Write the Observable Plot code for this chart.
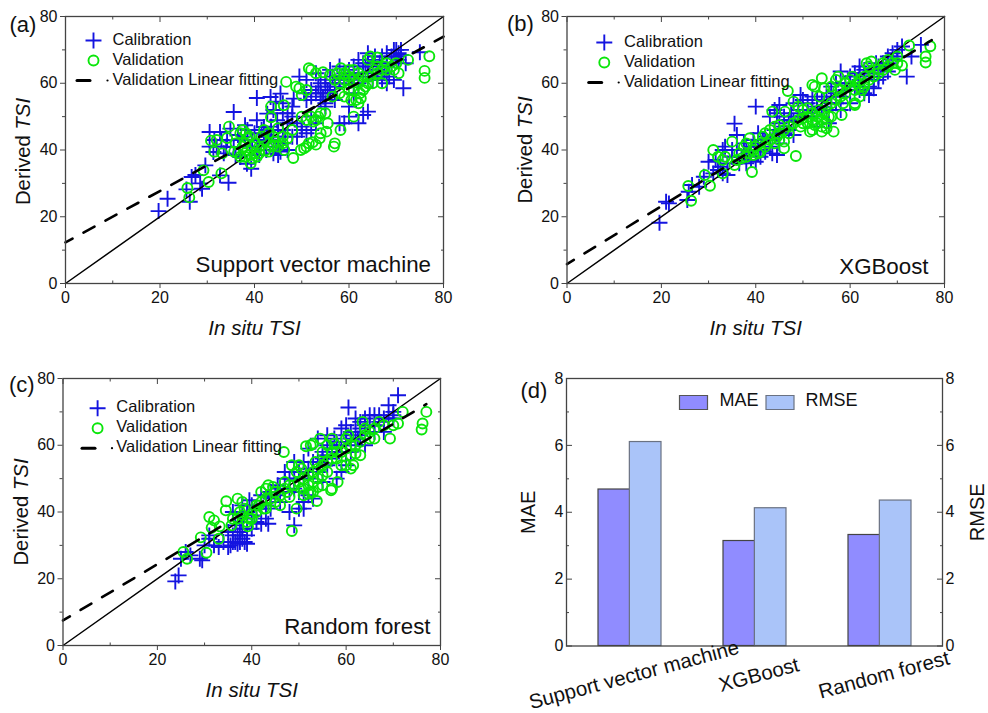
<!DOCTYPE html>
<html><head><meta charset="utf-8">
<style>
html,body{margin:0;padding:0;background:#fff;width:988px;height:713px;overflow:hidden}
#chart{position:relative;width:988px;height:713px}
#chart svg{position:absolute;background:none;overflow:visible}
</style>
<script src="https://cdn.jsdelivr.net/npm/d3@7"></script>
<script src="https://cdn.jsdelivr.net/npm/@observablehq/plot@0.6"></script>
</head><body><div id="chart"></div>
<script>
const calibrationA=[[19.7,21.7],[21.6,25.4],[26.3,24.5],[25.6,28.2],[26.7,31.9],[27.5,32.5],[28.9,28.4],[29.6,35.4],[28.5,30],[30.5,45.4],[32.7,45.4],[31.3,39.4],[34.5,30.2],[32.7,32.4],[35.6,51.4],[34.9,46.4],[34.2,42.9],[35.6,40.9],[33.5,39],[37,37.9],[38.4,35.9],[39.3,34.4],[38,47.4],[40.5,48.9],[40.5,55.6],[43.4,55.9],[45.5,56.9],[44.5,54.5],[46,54],[48.3,55.4],[42.7,50.9],[44.8,48.9],[42,46.9],[43,44],[45,44],[44,39],[45,38.5],[42.5,40],[41,43],[39,41],[37,43],[46,42],[47,40],[49,48],[50,47],[50,46],[51,45],[52,46],[49.5,62],[51,61],[52,58],[54,60],[54.5,56],[55,59],[56,57],[53,63],[56,64],[58,65],[60,61],[61,57],[62,60],[63.5,65],[63,66],[64,69],[65,67],[66,62],[67,61],[66,64],[68,65],[68,69],[69,66],[70,70],[71,70],[70.5,69],[69.5,61],[71.5,58.5],[75,69.3],[72,66],[60,53],[59,48],[62,48],[64,51.5],[63,50.5],[58,48],[60,50],[55,53],[52,50],[48,50],[53,48],[57,55],[61,62],[62,63],[64,62],[65,65],[67,62],[68,60],[58,60],[59,62],[56,60],[54,57],[55,54],[30.5,41],[31.5,43],[32,41],[33,43],[34,41],[36,38.5],[36.5,44.5],[38,44],[38.5,46],[39.5,43],[40,45],[40.5,41],[41,38.5],[41.5,46],[42,42],[42.5,44.5],[43.5,47],[44,43],[44.5,41],[45,46],[45.5,39.5],[46,46],[46.5,44],[47,48],[48,44],[50.5,57],[51,55],[52,56],[53,57],[53.5,59],[54,55],[55,61],[55.5,58],[56.5,62],[57,59],[58,61],[59,63],[60,64],[61,65],[62,67],[63,63],[64,66],[65,61],[65.5,68],[66.5,66],[67,68],[67.5,63],[68.5,62],[69,68],[69.5,70],[70,68],[70.5,67],[71,68.5],[49,44],[47,51],[48,53],[46,51],[44,52]];
const validationA=[[25.8,28.6],[26.2,25.8],[29.2,33.9],[30.3,30.4],[33,33],[30.8,42.8],[32,43],[31.5,39.5],[33.2,39],[34.2,43.6],[34.6,47],[35.7,39.5],[37,45],[37.5,46],[38.2,45],[38.5,43.5],[37.5,41],[38.5,40],[39,38.5],[39.2,36],[39.5,37.5],[40,39],[41,41],[41.5,44],[42,46],[42.3,39.9],[43,45],[43.5,41],[44,41.5],[43.5,49.8],[43.5,53],[46.2,53.4],[45,46.5],[46,42],[46.3,40],[48,46],[48.2,37.6],[46.7,60.4],[48.8,59],[49.5,58.5],[50,56.5],[51,58],[49.8,40],[50.5,40.5],[51,41],[51.5,42],[52.3,42.3],[53,41.6],[54,45],[53.8,43.5],[52,50],[53,49],[53.5,50],[55,51],[55.5,48],[55.2,45.5],[57,42],[56.8,41],[58.2,46],[51.5,64.5],[52,64],[53,63],[54.5,63.3],[56,62.5],[57.5,63],[58.3,64.5],[59,61],[60,62],[61,61],[62,63],[56.5,56],[59,56],[60.5,55],[61.5,55],[62,54],[62.5,55.5],[63,58],[61,50],[62.3,57],[64,60],[65.5,64],[66,65],[67,60],[67.5,65],[64,67],[64.5,68],[66,67.7],[68,66],[69.5,64],[70,66],[70.5,63],[72.5,67],[76,63.7],[76,61.6],[77,68.1],[36,42],[36.5,39],[37,38],[38,38],[38,42],[39,44],[39.5,41],[40,42],[40.5,38],[41,39],[42,43],[43,39.5],[44,44],[44.5,42.5],[45,41],[46,44],[47,43.5],[57,61],[58,60],[59,63],[60,60],[61,58],[62,60],[63,62],[63.5,59],[64.5,62],[65,60],[66,63],[67,64],[68,64],[69,65],[50,50],[51,49],[52.5,48.5],[54,51],[60,58],[58,57],[62,61],[61,64],[60,64]];
const fitA=[[0,12.3],[80,74]];
const calibrationB=[[19.6,18.2],[21.6,24],[21,24.5],[25.5,25],[25.8,27.5],[26.5,29.5],[28,29],[29,32],[30,36.5],[32,34],[33,33],[34,32.5],[33,40],[35,38],[33.5,41],[35.5,47.9],[36,44.5],[36.5,36],[38,36],[39,37],[37.5,42],[39,41],[40.5,45],[40,53],[41.5,43],[43,41],[43.5,39],[44.5,38.5],[42,39.5],[45,48],[43,50],[44,52],[45,53.5],[44.5,51],[46,50],[47,49],[48,48.5],[48,44.5],[49.5,56.5],[50,55],[51,54],[52,56],[53,55],[54,53],[55,52],[56,56],[57,57],[58,63.5],[59,60],[60,62],[60,58],[61,63],[62,61],[63,57],[64,56.5],[65,58.5],[66,62],[67,64],[68,63.5],[69,67],[70,70],[71,71],[70,68],[72,62],[73,68],[75,71.5],[68,66],[66,61],[64,63],[62,58],[57,54],[58,52],[55.5,48],[53,47],[50,52],[49,50],[46,45],[45,42],[41,40],[40,36.5],[38,40],[36,40],[31,33],[31.5,37],[62,65],[63,64],[65.5,66],[67,66],[32.5,35],[34,36],[35,40],[37,38],[38.5,39],[39.5,43],[40.5,42],[41,38],[42,44],[43,43],[44,46],[45,45],[46,47],[47,46],[47.5,51],[48,54],[49,52],[50,50],[51,51],[52,52],[53,53],[54,55],[55,56],[56,54],[57,60],[58,56],[59,58],[60,60],[61,59],[62,63],[63,62],[64,61],[65,63],[66,65],[67,62],[68,68],[69,69],[65,61],[64,59],[60,54],[56,59],[52,50]];
const validationB=[[25.7,29.2],[26.3,24.8],[29.2,32.5],[30.3,29.3],[33,33],[31,40],[32,38],[33,37],[33.5,38],[35,42.5],[35.5,35.5],[36.5,39],[37.5,41],[38,42],[38.7,43.5],[39.2,33.4],[39.5,38.5],[40.5,39],[41,42],[41.5,44],[42,45],[43,46],[44,47],[45,47.5],[43.5,51.5],[46.2,51.5],[45,43],[46,42.5],[46,40.5],[47,45],[48.5,38.2],[46.8,57.7],[48,54.5],[49,53],[50,52],[51,52.5],[50,48],[51,48],[52,46],[51.5,45.5],[52,49],[53,50],[54,45.5],[54,47],[55,48],[55.5,50],[56,50],[56.5,45.5],[58.2,50.5],[52,59.5],[52.5,59],[53.5,56],[54,61.5],[54.5,58.5],[56,59],[57,61],[57.5,62],[58,58],[59,60],[60,61],[60.5,62],[61,54],[61,53.5],[62,56],[63,59],[62.5,58],[61.5,60],[62,61],[64,65],[63.5,66],[64.5,66.5],[66,63],[67,66],[68,65],[70,66],[70,68],[69.5,64],[71,65.3],[72.5,71.3],[76,68],[76,66.2],[77,71.1],[36,37],[37,37.5],[38,38],[38.5,39],[39.5,40],[40,41],[41,39.5],[42,41],[42.5,42],[43,43],[44,42],[44.5,44],[45,45],[46,46],[47,47],[48,48],[49,49],[49.5,47],[50,49.5],[51,50],[52,51],[52.5,47.5],[53,48],[53.5,52],[54,49],[54.5,51],[55,53],[55,46.5],[56,54],[57,55],[58,56],[59,57],[60,59],[58.5,54],[57.5,58],[61,58],[62,59],[63,60],[63,62],[64,61],[65,62],[66,64],[67,64],[68,67],[69,66]];
const fitB=[[0,5.8],[77.3,72.9]];
const calibrationC=[[23.8,19.2],[24.5,21],[25,26],[26,28],[27,27],[29,26],[29.5,25.5],[31,32],[33,29.5],[35,29.5],[36,33],[36.5,31],[37,30.5],[37,33],[37.5,31],[38,32],[38.5,31],[39,30.5],[36.5,36],[36,40],[38,42],[39.5,43.5],[40,35],[41,37],[42,36.5],[43.5,36.5],[43,38],[42,41],[42,45],[43,44.5],[44,46],[45.5,48],[47,50],[47,52],[48,40],[49,47],[49,36],[50,41],[51,41],[51,43],[52,45],[53,44],[49,55],[51,55],[52,59],[53,55],[54,62],[55,58],[56,60],[56,63],[57.5,62],[56,54],[58,50],[59,52],[60,54],[59,65],[60,66],[60.5,71.3],[60,58],[62,68],[61,64],[62.5,62],[64,68],[65,66],[66,69],[67,69],[69,72],[70,70],[71,75],[70,68],[68,64],[66,64],[64,60],[62,60],[61,58],[48,46],[46,43],[44,41],[40,42],[39,40],[52,50],[54,52],[55,49],[57,56],[58,58],[60,63],[63,65],[30,30],[31,33],[32,30],[34,31],[35,34],[35.5,30],[36,31],[37.5,34],[38,35],[39,33],[38,37],[39,38],[40,39],[41,41],[43,42],[44,44],[45,45],[46,47],[48,50],[49,50],[50,46],[50,52],[51,50],[52,53],[53,52],[54,55],[55,56],[56,57],[57,59],[58,61],[59,60],[60,61],[61,62],[62,64],[63,63],[63,67],[64,66],[65,69],[66,66],[67,67],[68,68],[69,68],[70,69]];
const validationC=[[25.5,28],[26.3,26],[29.2,32.4],[30.4,27.8],[33,32],[31,38.5],[32,37.5],[31.5,35.3],[33.2,35.7],[34.5,40.5],[34.6,43.2],[35.7,36],[37,44],[38,43],[37.5,40],[38.5,41],[39.2,35.7],[39.5,38],[40,39.5],[41,40],[41.5,42],[42,46],[43,47],[43.5,48],[44.5,47.5],[43,41],[45,43],[46,42],[47,49],[46.8,58],[48,44.5],[48.5,34.3],[48.5,54],[49.5,52],[50,54],[50.5,53],[49.5,41],[51,47],[52,48],[52.5,46],[53,46],[53.8,43.3],[54,50],[55,51],[55,48],[56,52],[56.8,46.5],[57,47],[58.2,49],[51.5,59.7],[52.5,60],[53,60.5],[53.5,55],[54.5,62],[55,58],[56,60],[57,62],[57.5,60.5],[58,56],[59,54],[60,62],[60.5,63],[61,60],[60,54],[61,53],[61.5,54],[62,57.5],[63,57],[64,65],[63.5,67],[65,62],[66,62],[67,67],[68,66],[69.3,62],[70,66],[71,66.5],[72,70],[76,64.7],[76.2,66.5],[77,70],[36,38],[37,38],[38,39],[39,37],[40,38],[41,42],[42,43],[42.5,41],[43,44],[44,44],[45,46],[46,45],[47,47],[47.5,46],[48,48],[49,48],[50,49],[50.5,47],[51,50],[52,51],[53,49],[53,52],[54,53],[55,54],[56,55],[57,56],[57,58],[58,58],[59,58],[60,59],[61,57],[62,60],[63,61],[64,63],[65,64],[66,65],[54,47.5],[52,45.5],[51,45]];
const fitC=[[0,7.5],[77,72.3]];
const identityLine=[[0,0],[80,80]];
const methods=["Support vector machine","XGBoost","Random forest"];
const maeValues=[4.68,3.14,3.32];
const rmseValues=[6.1,4.12,4.35];
const majorTicks=[0,20,40,60,80], minorTicks=[10,30,50,70];
const barMajorTicks=[0,2,4,6,8], barMinorTicks=[1,3,5,7];

const FONT='"Liberation Sans", Arial, sans-serif', BLUE="#1414e0", GREEN="#0ae60a", FRAME="#444";
const root=document.getElementById("chart");
function place(svg,left,top){svg.style.left=left+"px";svg.style.top=top+"px";root.appendChild(svg);return svg;}

function yAxes(major,minor){return [
  Plot.axisY({ticks:major,anchor:"right",tickSize:-6,text:null,label:null,stroke:FRAME}),
  Plot.axisY({ticks:minor,anchor:"right",tickSize:-3,text:null,label:null,stroke:FRAME}),
];}
function scatter(o){
  const m=o.m;
  const svg=Plot.plot({width:o.w,height:o.h,marginLeft:m[0],marginTop:m[1],marginRight:m[2],marginBottom:m[3],
    style:{fontFamily:FONT,background:"transparent",color:"#111",overflow:"visible"},
    x:{domain:[0,80],label:null,axis:null},y:{domain:[0,80],label:null,axis:null},
    marks:[
      Plot.dot(o.cal,{symbol:"plus",r:5.2,stroke:BLUE,strokeWidth:1.9}),
      Plot.line(identityLine,{stroke:"#000",strokeWidth:1.5}),
      Plot.dot(o.val,{symbol:"circle",r:5,stroke:GREEN,strokeWidth:1.9,fill:"none"}),
      Plot.line(o.fit,{stroke:"#000",strokeWidth:2.6,strokeDasharray:"12.5 12.5",strokeDashoffset:4.5}),
      Plot.axisX({ticks:majorTicks,tickSize:5,tickPadding:3,fontSize:16,label:null,stroke:FRAME,tickFormat:d=>d,color:"#111"}),
      Plot.axisX({ticks:minorTicks,tickSize:-2.5,text:null,label:null,stroke:FRAME}),
      Plot.axisX({ticks:majorTicks,anchor:"top",tickSize:-5,text:null,label:null,stroke:FRAME}),
      Plot.axisX({ticks:minorTicks,anchor:"top",tickSize:-2.5,text:null,label:null,stroke:FRAME}),
      Plot.axisY({ticks:majorTicks,tickSize:5,tickPadding:3,fontSize:16,label:null,stroke:FRAME,tickFormat:d=>d}),
      Plot.axisY({ticks:minorTicks,tickSize:3,text:null,label:null,stroke:FRAME}),
      ...yAxes(majorTicks,minorTicks),
      Plot.frame({stroke:FRAME,strokeWidth:1.3}),
      // legend
      Plot.dot([0],{frameAnchor:"top-left",dx:o.lg[0],dy:o.lg[1],symbol:"plus",r:5.2,stroke:BLUE,strokeWidth:1.9}),
      Plot.dot([0],{frameAnchor:"top-left",dx:o.lg[0],dy:o.lg[1]+20,symbol:"circle",r:5,stroke:GREEN,strokeWidth:1.9,fill:"none"}),
      Plot.vector([0],{frameAnchor:"top-left",dx:o.lg[2],dy:o.lg[1]+40,rotate:90,length:13,anchor:"start",shape:{draw(c,l){c.moveTo(0,0);c.lineTo(0,-l);}},stroke:"#000",strokeWidth:3}),
      Plot.dot([0],{frameAnchor:"top-left",dx:o.lg[3],dy:o.lg[1]+40,r:1.1,fill:"#000"}),
      ...["Calibration","Validation","Validation Linear fitting"].map((t,i)=>Plot.text([t],{frameAnchor:"top-left",textAnchor:"start",lineAnchor:"middle",dx:o.lg[4],dy:o.lg[1]-1+20*i,fontSize:16.5,fill:"#111"})),
      // annotations
      Plot.text([o.name],{frameAnchor:"bottom-right",textAnchor:"end",lineAnchor:"middle",dx:o.nm[0],dy:o.nm[1],fontSize:22.3,fill:"#111"}),
      Plot.text([o.tag],{frameAnchor:"top-left",textAnchor:"start",lineAnchor:"middle",dx:o.tg[0],dy:o.tg[1],fontSize:22,fill:"#111"}),
      Plot.text(["Derived TSI"],{frameAnchor:"left",textAnchor:"middle",lineAnchor:"middle",rotate:-90,dx:o.yl[0],dy:o.yl[1],fontSize:20.3,fill:"#111"}),
      Plot.text(["In situ TSI"],{frameAnchor:"bottom",textAnchor:"middle",lineAnchor:"middle",dy:45,fontSize:20.5,fontStyle:"italic",fill:"#111"}),
    ]});
  d3.select(svg).selectAll("text").filter(function(){return this.textContent==="Derived TSI";}).each(function(){
    const t=d3.select(this);t.text("");t.append("tspan").text("Derived ");t.append("tspan").attr("font-style","italic").text("TSI");
  });
  return place(svg,o.left,o.top);
}
scatter({cal:calibrationA,val:validationA,fit:fitA,name:methods[0],tag:"(a)",left:0,top:0,w:470,h:345,m:[65,16,27,62],
  lg:[28,24,11.5,42,47],nm:[-12.5,-19],tg:[-56,8],yl:[-42.5,1.5]});
scatter({cal:calibrationB,val:validationB,fit:fitB,name:methods[1],tag:"(b)",left:500,top:0,w:460,h:345,m:[66.5,16,16,62],
  lg:[37.3,26,21.7,51.7,57],nm:[-16,-17],tg:[-60,7],yl:[-41.7,0]});
scatter({cal:calibrationC,val:validationC,fit:fitC,name:methods[2],tag:"(c)",left:0,top:360,w:460,h:353,m:[62.5,18,20,68],
  lg:[34.6,29.7,19,49,53.3],nm:[-10,-19],tg:[-54,6],yl:[-42,0]});

const barRows=methods.map((m,i)=>({method:m,mae:maeValues[i],rmse:rmseValues[i]}));
const swatch=(fill,stroke,dx)=>Plot.dot([0],{frameAnchor:"top-left",dx,dy:24,symbol:{draw(c){c.rect(-14,-7,28,14);}},fill,stroke,strokeWidth:1.2});
const MAEC="#908cff",RMSEC="#aac4f9";
const barSvg=Plot.plot({width:478,height:353,marginLeft:56,marginTop:18,marginRight:46,marginBottom:67.5,
  style:{fontFamily:FONT,background:"transparent",color:"#111",overflow:"visible"},
  x:{domain:methods,paddingInner:0.5,paddingOuter:0.25,label:null,axis:null},y:{domain:[0,8],label:null,axis:null},
  marks:[
    Plot.barY(barRows,{x:"method",y:"mae",insetRight:31.35,fill:MAEC,stroke:"#444",strokeWidth:1.2}),
    Plot.barY(barRows,{x:"method",y:"rmse",insetLeft:31.35,fill:RMSEC,stroke:"#6a7282",strokeWidth:1.2}),
    Plot.axisY({anchor:"left",ticks:barMajorTicks,tickSize:-6,tickPadding:9,fontSize:16,label:null,stroke:FRAME,tickFormat:d=>d}),
    Plot.axisY({anchor:"left",ticks:barMinorTicks,tickSize:-3,text:null,label:null,stroke:FRAME}),
    Plot.axisY({anchor:"right",ticks:barMajorTicks,tickSize:-6,tickPadding:9,fontSize:16,label:null,stroke:FRAME,tickFormat:d=>d}),
    Plot.axisY({anchor:"right",ticks:barMinorTicks,tickSize:-3,text:null,label:null,stroke:FRAME}),
    Plot.frame({stroke:FRAME,strokeWidth:1.3}),
    Plot.text(methods,{x:d=>d,frameAnchor:"bottom",textAnchor:"middle",lineAnchor:"middle",rotate:-15,dx:4,dy:29,fontSize:20.5,fill:"#111"}),
    swatch(MAEC,"#555",127),swatch(RMSEC,"#6a7282",213.5),
    Plot.text(["MAE"],{frameAnchor:"top-left",textAnchor:"start",lineAnchor:"middle",dx:153,dy:22,fontSize:18,fill:"#111"}),
    Plot.text(["RMSE"],{frameAnchor:"top-left",textAnchor:"start",lineAnchor:"middle",dx:239,dy:22,fontSize:18,fill:"#111"}),
    Plot.text(["(d)"],{frameAnchor:"top-left",textAnchor:"start",lineAnchor:"middle",dx:-46,dy:12,fontSize:22,fill:"#111"}),
    Plot.text(["MAE"],{frameAnchor:"left",textAnchor:"middle",lineAnchor:"middle",rotate:-90,dx:-38,fontSize:20,fill:"#111"}),
    Plot.text(["RMSE"],{frameAnchor:"right",textAnchor:"middle",lineAnchor:"middle",rotate:-90,dx:35.5,fontSize:20,fill:"#111"}),
  ]});
place(barSvg,510,360);
</script></body></html>
